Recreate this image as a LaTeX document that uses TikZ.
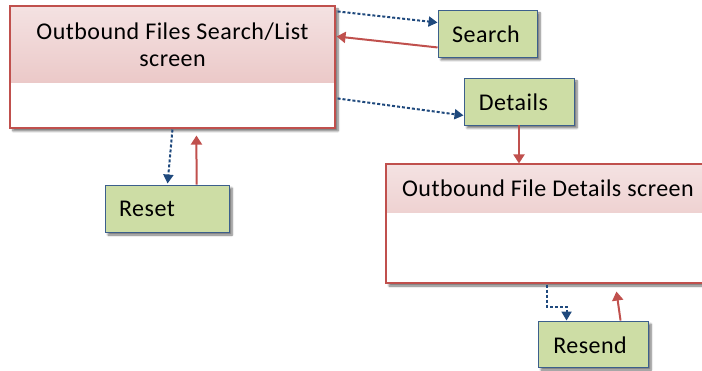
\documentclass[tikz,border=0pt]{standalone}
\usepackage{fontspec}
\setmainfont[LetterSpace=2.0]{Carlito}
\usetikzlibrary{shadows.blur,arrows.meta,calc}
\definecolor{boxred}{RGB}{192,80,77}
\definecolor{hdtop}{RGB}{244,226,226}
\definecolor{hdbot}{RGB}{230,186,185}
\definecolor{btnfill}{RGB}{205,221,165}
\definecolor{btnline}{RGB}{60,95,140}
\definecolor{linkblue}{RGB}{31,73,125}
\definecolor{linkred}{RGB}{192,80,77}
\begin{document}
\begin{tikzpicture}[x=1pt,y=-1pt,
  shadowed/.style={blur shadow={shadow xshift=3pt,shadow yshift=-3pt,shadow blur steps=6,shadow blur radius=2pt,shadow opacity=55}},
  screenbox/.style={rectangle,draw=boxred,line width=1.1pt,fill=white,inner sep=0pt,shadowed,
    path picture={\shade[top color=hdtop,bottom color=hdbot]
      (path picture bounding box.north west) rectangle ($(path picture bounding box.north east)+(0,#1)$);}},
  btn/.style={rectangle,draw=btnline,line width=0.9pt,fill=btnfill,inner sep=0pt,shadowed},
  lbl/.style={inner sep=0pt,font=\fontsize{24}{27}\selectfont,align=center},
  bluelink/.style={draw=linkblue,line width=2pt,dash pattern=on 3pt off 2pt,
    -{Triangle[width=10pt,length=9pt]}},
  redlink/.style={draw=linkred,line width=2pt,-{Triangle[width=11pt,length=9pt]}}
]
\useasboundingbox (0,0) rectangle (702,371);
% screens
\node[screenbox=77,minimum width=325pt,minimum height=122pt] (box1) at (172.5,67) {};
\node[lbl] (box1lbl) at (172.5,45) {Outbound Files Search/List\\screen};
\node[screenbox=49,minimum width=322pt,minimum height=119pt] (box2) at (547,223.5) {};
\node[lbl] (box2lbl) at (548,188.5) {Outbound File Details screen};
% buttons
\node[btn,minimum width=99pt,minimum height=47pt] (search) at (487.5,33.5) {};
\node[lbl] (searchlbl) at (486,34) {Search};
\node[btn,minimum width=110pt,minimum height=47pt] (details) at (519,101.5) {};
\node[lbl] (detailslbl) at (513.5,102) {Details};
\node[btn,minimum width=124pt,minimum height=47pt] (reset) at (167,208.5) {};
\node[lbl] (resetlbl) at (147,209) {Reset};
\node[btn,minimum width=110pt,minimum height=46pt] (resend) at (593,344) {};
\node[lbl] (resendlbl) at (590,345) {Resend};
% connectors
\draw[bluelink] ($(box1.north east)+(2,6)$) -- ($(search.north west)+(0,13)$);
\draw[redlink] ($(search.south west)+(0,-10)$) -- ($(box1.north east)+(1,31)$);
\draw[bluelink] ($(box1.north east)+(2,93)$) -- ($(details.south west)+(0,-10)$);
\draw[redlink] (details.south) -- (details.south |- box2.north);
\draw[bluelink] ($(box1.south west)+(163,1)$) -- ($(reset.north west)+(63,-1)$);
\draw[redlink] ($(reset.north west)+(92,0)$) -- ($(box1.south west)+(187,7)$);
\draw[bluelink] ($(box2.south west)+(162,1)$) |- ($(resend.north west)+(29,-14)$) -- ($(resend.north west)+(29,0)$);
\draw[redlink] ($(resend.north west)+(83,0)$) -- ($(box2.south west)+(231,8)$);
\end{tikzpicture}
\end{document}
